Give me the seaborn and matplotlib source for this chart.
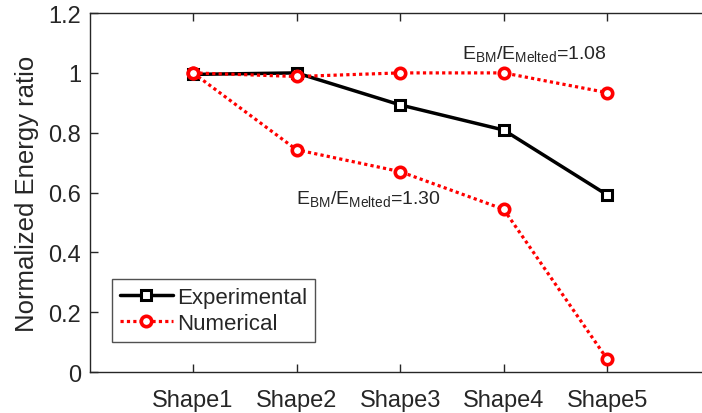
import numpy as np
import matplotlib
matplotlib.use('Agg')
import matplotlib.pyplot as plt
import seaborn as sns

shapes = ['Shape1', 'Shape2', 'Shape3', 'Shape4', 'Shape5']
experimental = [0.995, 1.0, 0.893, 0.809, 0.592]
numerical_108 = [1.0, 0.988, 1.0, 1.0, 0.934]
numerical_130 = [1.0, 0.743, 0.670, 0.544, 0.043]
ytick_vals = [0, 0.2, 0.4, 0.6, 0.8, 1.0, 1.2]
ytick_labels = ['0', '0.2', '0.4', '0.6', '0.8', '1', '1.2']

sns.set_style('ticks')
plt.rcParams['font.family'] = ['Liberation Sans', 'DejaVu Sans']
plt.rcParams['mathtext.fontset'] = 'custom'
plt.rcParams['mathtext.rm'] = 'Liberation Sans'

x = np.arange(1, len(shapes) + 1)

fig = plt.figure(figsize=(7.02, 4.14), dpi=100)
ax = fig.add_axes([0.1275, 0.099, 0.885, 0.867])

sns.lineplot(x=x, y=experimental, ax=ax, color='black', linewidth=2.5,
             marker='s', markersize=6.5, markeredgewidth=2.2, markerfacecolor='white',
             markeredgecolor='black', label='Experimental')
sns.lineplot(x=x, y=numerical_108, ax=ax, color='red', linewidth=2.3,
             linestyle=(0, (1, 1)), marker='o', markersize=7.5, markeredgewidth=2.6,
             markerfacecolor='white', markeredgecolor='red', label='Numerical')
sns.lineplot(x=x, y=numerical_130, ax=ax, color='red', linewidth=2.3,
             linestyle=(0, (1, 1)), marker='o', markersize=7.5, markeredgewidth=2.6,
             markerfacecolor='white', markeredgecolor='red', label='_nolegend_')

ax.set_xlim(0, 6)
ax.set_ylim(0, 1.2)
ax.set_xticks(x)
ax.set_xticklabels(shapes)
ax.set_yticks(ytick_vals)
ax.set_yticklabels(ytick_labels)
ax.tick_params(direction='in', top=True, right=False, labelsize=17, length=6,
               width=1, color='#262626', labelcolor='#262626')
ax.tick_params(axis='x', pad=12)
ax.tick_params(axis='y', pad=6)
for side in ['left', 'bottom', 'top']:
    ax.spines[side].set_visible(True)
    ax.spines[side].set_color('#262626')
    ax.spines[side].set_linewidth(1)
ax.spines['right'].set_visible(False)

ax.set_ylabel('Normalized Energy ratio', fontsize=18.5, color='#262626', labelpad=7)

ax.text(3.6, 1.049, r'$\mathregular{E_{BM}/E_{Melted}}$=1.08', fontsize=14,
        color='#262626', va='baseline')
ax.text(1.99, 0.565, r'$\mathregular{E_{BM}/E_{Melted}}$=1.30', fontsize=14,
        color='#262626', va='baseline')

leg = ax.legend(loc='lower left', bbox_to_anchor=(0.036, 0.084), borderaxespad=0,
                fontsize=16, frameon=True, fancybox=False, handlelength=2.4,
                handletextpad=0.2, borderpad=0.35, labelspacing=0.25)
leg.get_frame().set_edgecolor('#262626')
leg.get_frame().set_linewidth(1)

fig.savefig('out.png', dpi=100)
